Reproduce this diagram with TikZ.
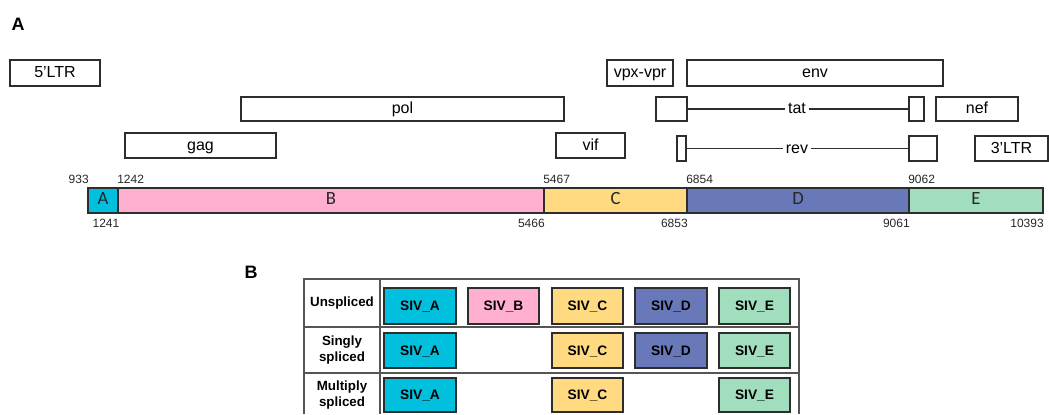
\documentclass[tikz,border=0pt]{standalone}
\usepackage{fontspec}
\setmainfont{Liberation Sans}
\newfontfamily\barfont{Carlito}
\usetikzlibrary{fit}
\definecolor{segA}{RGB}{0,192,222}
\definecolor{segB}{RGB}{255,176,208}
\definecolor{segC}{RGB}{255,218,128}
\definecolor{segD}{RGB}{104,120,184}
\definecolor{segE}{RGB}{160,222,190}
\definecolor{edge}{RGB}{45,45,45}
\definecolor{tabline}{RGB}{85,85,85}
\begin{document}
\begin{tikzpicture}[x=0.75pt,y=-0.75pt,
  gene/.style={draw=edge, line width=0.9pt, inner sep=0pt},
  glab/.style={inner sep=0pt, text height=0.716em, text depth=0pt, font=\fontsize{12}{14}\selectfont},
  seg/.style={draw=edge, line width=0.9pt, inner sep=0pt},
  slab/.style={inner sep=0pt, text height=0.64em, text depth=0pt, font=\barfont\fontsize{14}{16}\selectfont, text=black!85},
  num/.style={inner sep=0pt, text height=0.716em, text depth=0pt, font=\fontsize{9}{11}\selectfont, text=black!85},
  siv/.style={draw=edge, line width=0.9pt, inner sep=0pt},
  sivlab/.style={inner sep=0pt, text height=0.716em, text depth=0pt, font=\bfseries\fontsize{10.3}{12}\selectfont},
  rowlab/.style={align=center, inner sep=0pt, font=\bfseries\fontsize{10}{11.5}\selectfont},
  panel/.style={inner sep=0pt, font=\bfseries\fontsize{13.5}{16}\selectfont},
  link/.style={draw=edge, line width=0.8pt},
  tab/.style={draw=tabline, line width=0.9pt}]
\useasboundingbox (0,0) rectangle (1049,414);

% panel labels
\node[panel] (pA) at (18,24) {A};
\node[panel] (pB) at (251,272) {B};

% gene boxes, row 1
\node[gene, fit={(10,60)(100,86)}, label={[glab]center:5’LTR}] (ltr5) {};
\node[gene, fit={(607,60)(673,86)}, label={[glab]center:vpx-vpr}] (vpx) {};
\node[gene, fit={(687,60)(943,86)}, label={[glab]center:env}] (env) {};
% row 2
\node[gene, fit={(241,97)(564,121)}, label={[glab]center:pol}] (pol) {};
\node[gene, fit={(656,97)(687,121)}] (tatL) {};
\node[gene, fit={(909,97)(924,121)}] (tatR) {};
\node[glab, inner sep=2pt] (tatT) at (797,109) {tat};
\node[gene, fit={(936,97)(1018,121)}, label={[glab]center:nef}] (nef) {};
% row 3
\node[gene, fit={(125,133)(276,158)}, label={[glab]center:gag}] (gag) {};
\node[gene, fit={(556,133)(625,158)}, label={[glab]center:vif}] (vif) {};
\node[gene, fit={(677,136)(686,161)}] (revL) {};
\node[gene, fit={(909,136)(937,161)}] (revR) {};
\node[glab, inner sep=2pt] (revT) at (797,148.5) {rev};
\node[gene, fit={(975,136)(1048,161)}, label={[glab]center:3’LTR}] (ltr3) {};

\draw[link] (tatL.east) -- (tatT.west);
\draw[link] (tatT.east) -- (tatR.west);
\draw[link] (revL.east) -- (revT.west);
\draw[link] (revT.east) -- (revR.west);

% genome bar
\node[seg, fill=segA, fit={(88,188)(118,213)}, label={[slab]center:A}] (sA) {};
\node[seg, fill=segB, fit={(118,188)(544,213)}, label={[slab]center:B}] (sB) {};
\node[seg, fill=segC, fit={(544,188)(687,213)}, label={[slab]center:C}] (sC) {};
\node[seg, fill=segD, fit={(687,188)(909,213)}, label={[slab]center:D}] (sD) {};
\node[seg, fill=segE, fit={(909,188)(1043,213)}, label={[slab]center:E}] (sE) {};

% coordinates
\node[num, anchor=east] (n933) at (89,179) {933};
\node[num, anchor=west] (n1242) at (117,179) {1242};
\node[num] (n1241) at (106,223) {1241};
\node[num, anchor=west] (n5467) at (543,179) {5467};
\node[num, anchor=east] (n5466) at (545,223) {5466};
\node[num, anchor=west] (n6854) at (686,179) {6854};
\node[num, anchor=east] (n6853) at (688,223) {6853};
\node[num, anchor=west] (n9062) at (908,179) {9062};
\node[num, anchor=east] (n9061) at (910,223) {9061};
\node[num, anchor=east] (n10393) at (1044,223) {10393};

% table
\draw[tab] (304,414) -- (304,279) -- (799,279) -- (799,414);
\draw[tab] (380,279) -- (380,414);
\draw[tab] (304,327) -- (799,327);
\draw[tab] (304,373) -- (799,373);

\node[rowlab] (r1) at (342,303) {Unspliced};
\node[rowlab] (r2) at (342,350) {Singly\\spliced};
\node[rowlab] (r3) at (342,395) {Multiply\\spliced};

% row 1
\node[siv, fill=segA, fit={(384,288)(456,324)}, label={[sivlab]center:SIV\_A}] (u1) {};
\node[siv, fill=segB, fit={(468,288)(539,324)}, label={[sivlab]center:SIV\_B}] (u2) {};
\node[siv, fill=segC, fit={(552,288)(623,324)}, label={[sivlab]center:SIV\_C}] (u3) {};
\node[siv, fill=segD, fit={(635,288)(707,324)}, label={[sivlab]center:SIV\_D}] (u4) {};
\node[siv, fill=segE, fit={(719,288)(790,324)}, label={[sivlab]center:SIV\_E}] (u5) {};
% row 2
\node[siv, fill=segA, fit={(384,333)(456,368)}, label={[sivlab]center:SIV\_A}] (s1) {};
\node[siv, fill=segC, fit={(552,333)(623,368)}, label={[sivlab]center:SIV\_C}] (s3) {};
\node[siv, fill=segD, fit={(635,333)(707,368)}, label={[sivlab]center:SIV\_D}] (s4) {};
\node[siv, fill=segE, fit={(719,333)(790,368)}, label={[sivlab]center:SIV\_E}] (s5) {};
% row 3
\node[siv, fill=segA, fit={(384,378)(456,412)}, label={[sivlab]center:SIV\_A}] (m1) {};
\node[siv, fill=segC, fit={(552,378)(623,412)}, label={[sivlab]center:SIV\_C}] (m3) {};
\node[siv, fill=segE, fit={(719,378)(790,412)}, label={[sivlab]center:SIV\_E}] (m5) {};
\end{tikzpicture}
\end{document}
